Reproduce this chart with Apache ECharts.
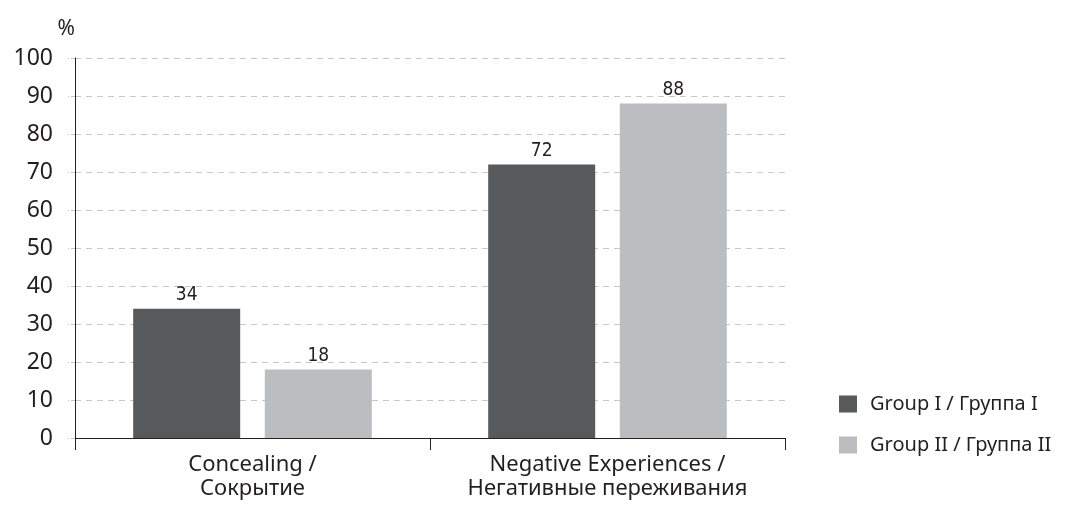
<!DOCTYPE html>
<html>
<head>
<meta charset="utf-8">
<script src="https://cdn.jsdelivr.net/npm/echarts@6/dist/echarts.min.js"></script>
<style>
  html, body { margin: 0; padding: 0; background: #fff; }
  #chart { width: 1080px; height: 505px; }
</style>
</head>
<body>
<div id="chart"></div>
<script>
// Categories and values (%)
const categories = ['Concealing /\nСокрытие', 'Negative Experiences /\nНегативные переживания'];
const groupNames = ['Group I / Группа I', 'Group II / Группа II'];
const group1 = [34, 72];
const group2 = [18, 88];
const yTicks = { min: 0, max: 100, interval: 10 };

const textColor = '#231f20';
const mainFont = '"Noto Sans", "Open Sans", sans-serif';
const narrowFont = '"Liberation Sans Narrow", "DejaVu Sans Condensed", "Noto Sans", sans-serif';

const chart = echarts.init(document.getElementById('chart'));

const valueLabel = {
  show: true,
  position: 'top',
  distance: 4,
  color: textColor,
  fontFamily: narrowFont,
  fontSize: 19
};

chart.setOption({
  animation: false,
  textStyle: { fontFamily: mainFont, color: textColor },
  grid: { left: 75, right: 295, top: 58, bottom: 67, containLabel: false },
  legend: {
    orient: 'vertical',
    left: 834,
    top: 389,
    itemWidth: 18,
    itemHeight: 17,
    itemGap: 21,
    icon: 'rect',
    textStyle: { fontFamily: mainFont, fontSize: 20, color: textColor, padding: [0, 0, 0, 8] },
    data: groupNames
  },
  xAxis: {
    type: 'category',
    data: categories,
    axisLine: { lineStyle: { color: '#231f20', width: 1 } },
    axisTick: { show: true, interval: 0, length: 12, inside: false, lineStyle: { color: '#231f20' } },
    axisLabel: { interval: 0, hideOverlap: false, fontFamily: mainFont, fontSize: 22, color: textColor, margin: 15, lineHeight: 24 }
  },
  yAxis: {
    type: 'value',
    min: yTicks.min,
    max: yTicks.max,
    interval: yTicks.interval,
    name: '%',
    nameLocation: 'end',
    nameGap: 18,
    nameTextStyle: { fontFamily: mainFont, fontSize: 21, color: textColor, align: 'right', padding: [0, 0, 0, 0] },
    axisLine: { show: true, lineStyle: { color: '#231f20', width: 1 } },
    axisTick: { show: true, length: 7, lineStyle: { color: '#c8c8c8', type: 'dashed' } },
    axisLabel: { fontFamily: mainFont, fontSize: 23, color: textColor, margin: 22 },
    splitLine: { show: true, lineStyle: { color: '#c8c8c8', type: [6, 5], width: 1 } }
  },
  series: [
    {
      name: groupNames[0],
      type: 'bar',
      data: group1,
      barWidth: 107,
      barGap: '23%',
      itemStyle: { color: '#58595b' },
      label: valueLabel
    },
    {
      name: groupNames[1],
      type: 'bar',
      data: group2,
      barWidth: 107,
      itemStyle: { color: '#bcbdc0' },
      label: valueLabel
    }
  ]
});
</script>
</body>
</html>
